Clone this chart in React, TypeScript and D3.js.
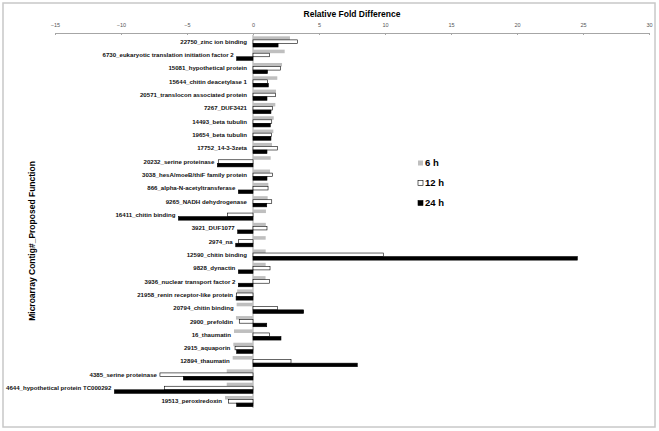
import React, { useEffect, useRef } from "react";
import * as d3 from "d3";

const categories = [
  "22750_zinc ion binding",
  "6730_eukaryotic translation initiation factor 2",
  "15081_hypothetical protein",
  "15644_chitin deacetylase 1",
  "20571_translocon associated protein",
  "7267_DUF3421",
  "14493_beta tubulin",
  "19654_beta tubulin",
  "17752_14-3-3zeta",
  "20232_serine proteinase",
  "3038_hesA/moeB/thiF family protein",
  "866_alpha-N-acetyltransferase",
  "9265_NADH dehydrogenase",
  "16411_chitin binding",
  "3921_DUF1077",
  "2974_na",
  "12590_chitin binding",
  "9828_dynactin",
  "3936_nuclear transport factor 2",
  "21958_renin receptor-like protein",
  "20794_chitin binding",
  "2900_prefoldin",
  "16_thaumatin",
  "2915_aquaporin",
  "12894_thaumatin",
  "4385_serine proteinase",
  "4644_hypothetical protein TC000292",
  "19513_peroxiredoxin",
];

const h6 = [2.8, 2.4, 2.2, 1.84, 1.74, 1.69, 1.57, 1.54, 1.44, 1.34, 1.29, 1.16, 1.11, 0.98, 0.97, 0.96, 0.96, 0.96, 0.95, -1.2, -1.24, -1.29, -1.44, -1.49, -1.54, -1.99, -1.99, -2.12];
const h12 = [3.36, 1.24, 2.07, 1.1, 1.69, 1.49, 1.42, 1.39, 1.84, -2.63, 1.49, 1.14, 1.42, -1.92, 1.06, -1.11, 9.87, 1.29, 1.24, -1.24, 1.87, -1.04, 1.24, -1.36, 2.88, -7.05, -6.72, -1.87];
const h24 = [1.9, -1.24, 1.1, 1.16, 1.06, 1.36, 1.31, 1.36, 1.06, -2.7, 1.06, -1.11, 1.04, -5.65, -1.16, -1.31, 24.57, -1.11, -1.11, -1.28, 3.84, 1.04, 2.12, -1.24, 7.9, -5.28, -10.5, -1.24];

const seriesNames = ["6 h", "12 h", "24 h"];
const xTicks = [-15, -10, -5, 0, 5, 10, 15, 20, 25, 30];

const fills = ["#bfbfbf", "#ffffff", "#000000"];
const strokes = ["none", "#000000", "#000000"];
const font = "Arial, 'Liberation Sans', sans-serif";

const App = () => {
  const ref = useRef<SVGSVGElement | null>(null);
  const width = 659,
    height = 431;

  useEffect(() => {
    const svg = d3.select(ref.current);
    svg.selectAll("*").remove();

    // frame
    svg
      .append("rect")
      .attr("x", 3)
      .attr("y", 3)
      .attr("width", 652)
      .attr("height", 424)
      .attr("fill", "#fff")
      .attr("stroke", "#c8c8c8")
      .attr("stroke-width", 1.5);

    const x = d3.scaleLinear().domain([-15, 30]).range([55, 649]);
    const y = d3.scaleBand().domain(categories).range([35, 408]).paddingInner(0.2).paddingOuter(0.1);
    const ySub = d3.scaleBand().domain(seriesNames).range([0, y.bandwidth()]);

    // top axis
    const axis = svg
      .append("g")
      .attr("transform", "translate(0,33)")
      .call(d3.axisTop(x).tickValues(xTicks).tickSize(-2).tickPadding(6));
    axis.select(".domain").attr("stroke", "#a6a6a6");
    axis.selectAll(".tick line").attr("stroke", "#a6a6a6");
    axis
      .selectAll(".tick text")
      .attr("fill", "#555")
      .style("font-family", font)
      .style("font-size", "5.5px");

    svg
      .append("text")
      .attr("x", (x(-15) + x(30)) / 2)
      .attr("y", 16.5)
      .attr("text-anchor", "middle")
      .style("font-family", font)
      .style("font-size", "8.5px")
      .style("font-weight", "bold")
      .text("Relative Fold Difference");

    svg
      .append("text")
      .attr("transform", "translate(35,241) rotate(-90)")
      .attr("text-anchor", "middle")
      .style("font-family", font)
      .style("font-size", "8.5px")
      .style("font-weight", "bold")
      .text("Microarray Contig#_Proposed Function");

    // zero line
    svg
      .append("line")
      .attr("x1", x(0))
      .attr("x2", x(0))
      .attr("y1", 35)
      .attr("y2", 408)
      .attr("stroke", "#a6a6a6");

    const series = [h6, h12, h24];
    const rows = svg
      .selectAll("g.row")
      .data(categories)
      .enter()
      .append("g")
      .attr("class", "row")
      .attr("transform", (d) => `translate(0,${y(d)})`);

    seriesNames.forEach((name, si) => {
      rows
        .append("rect")
        .attr("x", (d, i) => x(Math.min(0, series[si][i])))
        .attr("y", ySub(name)!)
        .attr("width", (d, i) => Math.abs(x(series[si][i]) - x(0)))
        .attr("height", ySub.bandwidth())
        .attr("fill", fills[si])
        .attr("stroke", strokes[si])
        .attr("stroke-width", 0.6);
    });

    rows
      .append("text")
      .attr("x", (d, i) => {
        const lo = Math.min(0, h6[i], h12[i], h24[i]);
        return x(lo) - (lo < 0 ? 3 : 6);
      })
      .attr("y", y.bandwidth() / 2)
      .attr("dy", "0.35em")
      .attr("text-anchor", "end")
      .style("font-family", font)
      .style("font-size", "6.1px")
      .style("font-weight", "bold")
      .attr("fill", "#111")
      .text((d) => d);

    // legend
    const legend = svg
      .selectAll("g.legend")
      .data(seriesNames)
      .enter()
      .append("g")
      .attr("class", "legend")
      .attr("transform", (d, i) => `translate(418,${163 + i * 20})`);
    legend
      .append("rect")
      .attr("x", 0)
      .attr("y", -2.5)
      .attr("width", 5)
      .attr("height", 5)
      .attr("fill", (d, i) => fills[i])
      .attr("stroke", (d, i) => strokes[i])
      .attr("stroke-width", 0.6);
    legend
      .append("text")
      .attr("x", 7)
      .attr("dy", "0.35em")
      .style("font-family", font)
      .style("font-size", "9.5px")
      .style("font-weight", "bold")
      .text((d) => d);
  }, []);

  return (
    <svg
      ref={ref}
      width={width}
      height={height}
      style={{ position: "absolute", left: 0, top: 0, background: "#fff" }}
    ></svg>
  );
};

export default App;
